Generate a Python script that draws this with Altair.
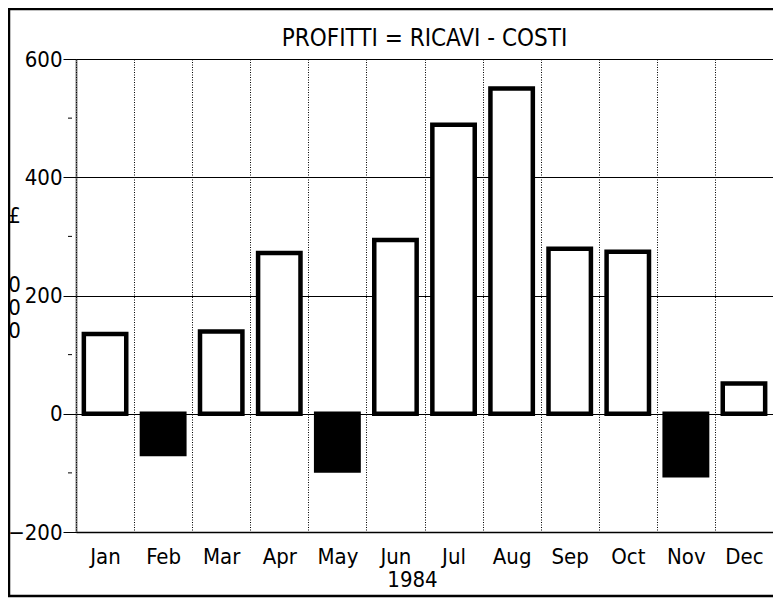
import altair as alt
import pandas as pd

months = ["Jan", "Feb", "Mar", "Apr", "May", "Jun", "Jul", "Aug", "Sep", "Oct", "Nov", "Dec"]
profits = [135, -68, 139, 272, -96, 294, 489, 550, 279, 274, -104, 51]
major_ticks = [-200, 0, 200, 400, 600]
minor_ticks = [-100, 100, 300, 500]
y_title = ["£", "\u200b", "\u200b", "0", "0", "0"]
x_title = "1984"
chart_title = "PROFITTI = RICAVI - COSTI"

df = pd.DataFrame({"month": months, "profit": profits})
minor_df = pd.DataFrame({"profit": minor_ticks})

FONT = "DejaVu Sans Condensed, Liberation Sans Narrow, sans-serif"

yscale = alt.Scale(domain=[-200, 600], nice=False, zero=False)
xscale = alt.Scale(paddingInner=0, paddingOuter=0)

yaxis = alt.Axis(values=major_ticks, title=y_title, titleAngle=0, titleX=-62, titleY=156,
                 titleAlign="center", titleBaseline="middle", titleLineHeight=23,
                 grid=True, gridColor="black", gridOpacity=1, gridWidth=1,
                 tickSize=13, tickColor="black", labelPadding=1, labelFontSize=22,
                 domainDash=[1, 1], domainWidth=2, domainColor="black")

bars = alt.Chart(df).mark_bar(
    stroke="black", strokeWidth=4.5, strokeJoin="miter", width=alt.RelativeBandSize(0.73)
).encode(
    x=alt.X("month:N", sort=months, scale=xscale,
            axis=alt.Axis(title=x_title, labelAngle=0, ticks=False, tickSize=0, tickBand="extent",
                          grid=True, gridDash=[1, 1.5], gridColor="black", gridOpacity=1, gridWidth=1,
                          domainColor="black", domainWidth=1.5, labelPadding=14,
                          titleX=336, titleY=47, titleBaseline="middle", titleAlign="center")),
    y=alt.Y("profit:Q", scale=yscale, axis=yaxis),
    fill=alt.condition("datum.profit > 0", alt.value("white"), alt.value("black")),
)

minor = alt.Chart(minor_df).mark_rule(color="black", strokeWidth=1).encode(
    y=alt.Y("profit:Q", scale=yscale, axis=yaxis),
    x=alt.value(-8),
    x2=alt.value(-4),
)

border = alt.Chart(pd.DataFrame({"a": [0]})).mark_rect(
    fillOpacity=0, stroke="black", strokeWidth=2.5
).encode(
    x=alt.value(-67), x2=alt.value(699), y=alt.value(-50), y2=alt.value(537)
)

chart = alt.layer(border, bars, minor).properties(
    width=697, height=473,
    title=alt.TitleParams(chart_title, font=FONT, fontSize=24, fontWeight="normal", offset=8,
                          anchor="middle", color="black", frame="group", dy=51),
    padding={"left": 68, "top": 51, "right": 0, "bottom": 66},
    autosize=alt.AutoSizeParams(type="none"),
).configure_view(stroke=None).configure_axis(
    labelFont=FONT, titleFont=FONT, labelFontSize=22, titleFontSize=22,
    labelColor="black", titleColor="black", titleFontWeight="normal",
)

chart.save("out.html", embed_options={"renderer": "svg", "actions": False})
